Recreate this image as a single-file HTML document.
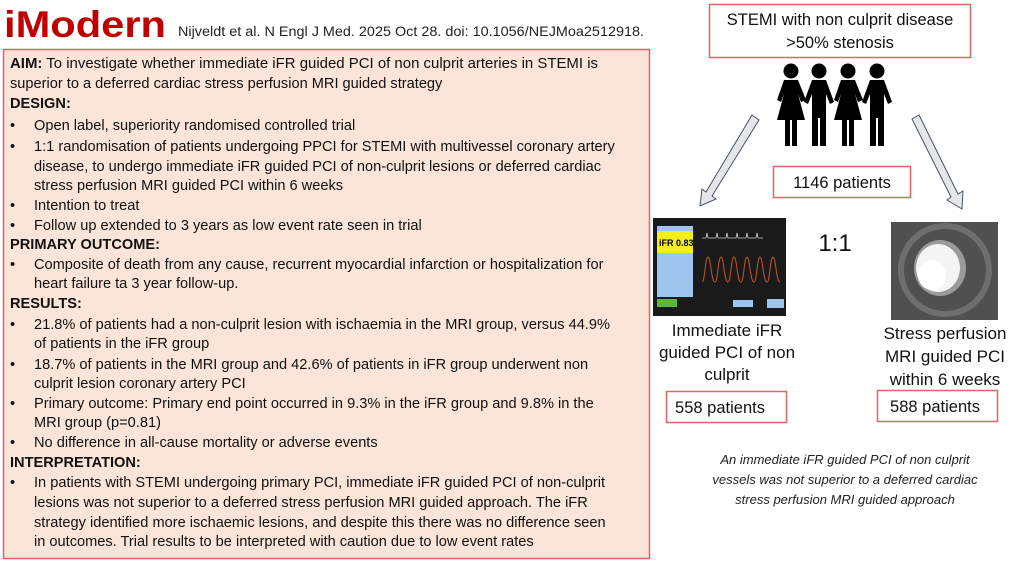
<!DOCTYPE html>
<html><head><meta charset="utf-8"><style>
html,body{margin:0;padding:0;background:#fff;}
svg{display:block;font-family:"Liberation Sans",sans-serif;}
</style></head><body>
<svg width="1024" height="576" viewBox="0 0 1024 576" xmlns="http://www.w3.org/2000/svg">
<text x="4" y="37" font-size="37" font-weight="bold" fill="#c00000" textLength="162" lengthAdjust="spacingAndGlyphs">iModern</text>
<text x="178" y="36" font-size="14" fill="#222" textLength="466" lengthAdjust="spacingAndGlyphs">Nijveldt et al. N Engl J Med. 2025 Oct 28. doi: 10.1056/NEJMoa2512918.</text>
<rect x="3.5" y="49.5" width="646" height="509" fill="#fbe4d8" stroke="#e06666" stroke-width="1.5"/>
<g font-size="14.6" fill="#111">
<text x="10" y="68" textLength="588" lengthAdjust="spacingAndGlyphs"><tspan font-weight="bold">AIM:</tspan> To investigate whether immediate iFR guided PCI of non culprit arteries in STEMI is</text>
<text x="10" y="88">superior to a deferred cardiac stress perfusion MRI guided strategy</text>
<text x="10" y="108" font-weight="bold">DESIGN:</text>
<text x="10" y="130">•</text><text x="34" y="130">Open label, superiority randomised controlled trial</text>
<text x="10" y="151">•</text><text x="34" y="151">1:1 randomisation of patients undergoing PPCI for STEMI with multivessel coronary artery</text>
<text x="34" y="171">disease, to undergo immediate iFR guided PCI of non-culprit lesions or deferred cardiac</text>
<text x="34" y="190">stress perfusion MRI guided PCI within 6 weeks</text>
<text x="10" y="210">•</text><text x="34" y="210">Intention to treat</text>
<text x="10" y="230">•</text><text x="34" y="230">Follow up extended to 3 years as low event rate seen in trial</text>
<text x="10" y="249" font-weight="bold">PRIMARY OUTCOME:</text>
<text x="10" y="269">•</text><text x="34" y="269">Composite of death from any cause, recurrent myocardial infarction or hospitalization for</text>
<text x="34" y="288">heart failure ta 3 year follow-up.</text>
<text x="10" y="308" font-weight="bold">RESULTS:</text>
<text x="10" y="329">•</text><text x="34" y="329">21.8% of patients had a non-culprit lesion with ischaemia in the MRI group, versus 44.9%</text>
<text x="34" y="348">of patients in the iFR group</text>
<text x="10" y="369">•</text><text x="34" y="369">18.7% of patients in the MRI group  and 42.6% of patients in iFR group underwent non</text>
<text x="34" y="388">culprit lesion coronary artery PCI</text>
<text x="10" y="408">•</text><text x="34" y="408">Primary outcome: Primary end point occurred in 9.3% in the iFR group and 9.8% in the</text>
<text x="34" y="427">MRI group (p=0.81)</text>
<text x="10" y="447">•</text><text x="34" y="447">No difference in all-cause mortality or adverse events</text>
<text x="10" y="467" font-weight="bold">INTERPRETATION:</text>
<text x="10" y="487">•</text><text x="34" y="487">In patients with STEMI undergoing primary PCI, immediate iFR guided PCI of non-culprit</text>
<text x="34" y="507">lesions was not superior to a deferred stress perfusion MRI guided approach. The iFR</text>
<text x="34" y="527">strategy identified more ischaemic lesions, and despite this there was no difference seen</text>
<text x="34" y="546">in outcomes. Trial results to be  interpreted with caution due to low event rates</text>
</g>
<rect x="709.5" y="4.5" width="261" height="53" fill="#fff" stroke="#e06666" stroke-width="1.5"/>
<text x="840" y="25" font-size="16.5" text-anchor="middle" fill="#111">STEMI with non culprit disease</text>
<text x="840" y="48" font-size="16.5" text-anchor="middle" fill="#111">&gt;50% stenosis</text>
<g fill="#000">
<circle cx="791" cy="71" r="7.5"/><circle cx="819" cy="71" r="7.5"/><circle cx="848" cy="71" r="7.5"/><circle cx="877" cy="71" r="7.5"/>
<path d="M784 80 h14 l8 20 l-5 2 l-3 -8 l7 26 h-8 v26 h-5 v-26 h-2 v26 h-5 v-26 h-8 l7 -26 l-3 8 l-4 -2 z"/>
<path d="M812 80 h14 l8 22 l-4 2 l-4 -10 v52 h-6 v-28 h-2 v28 h-6 v-52 l-4 10 l-4 -2 z"/>
<path d="M841 80 h14 l8 20 l-5 2 l-3 -8 l7 26 h-8 v26 h-5 v-26 h-2 v26 h-5 v-26 h-8 l7 -26 l-3 8 l-4 -2 z"/>
<path d="M870 80 h14 l8 22 l-4 2 l-4 -10 v52 h-6 v-28 h-2 v28 h-6 v-52 l-4 10 l-4 -2 z"/>
</g>
<g fill="#e6e6e6" stroke="#44546a" stroke-width="1">
<path d="M752 115 L759 120 L712 196 L716 199 L700 206 L702 189 L706 192 Z"/>
<path d="M912 119 L919 115 L958 194 L963 191 L962 209 L947 200 L951 197 Z"/>
</g>
<rect x="773.5" y="166.5" width="137" height="31" fill="#fff" stroke="#e06666" stroke-width="1.5"/>
<text x="842" y="188" font-size="16.5" text-anchor="middle" fill="#111">1146 patients</text>
<rect x="653" y="218" width="133" height="98" fill="#1a1a1a"/>
<rect x="657" y="226" width="36" height="71" fill="#9ec5ee"/>
<rect x="657" y="231" width="36" height="22" fill="#f4ef1a"/>
<text x="659" y="246" font-size="9" font-weight="bold" fill="#000">iFR 0.83</text>
<rect x="657" y="299" width="20" height="8" fill="#5cb83c"/>
<rect x="733" y="300" width="20" height="7" fill="#9ec5ee"/>
<rect x="767" y="299" width="17" height="9" fill="#9ec5ee"/>
<path d="M702 238 l4 0 l1 -5 l1 5 l8 0 l1 -5 l1 5 l8 0 l1 -5 l1 5 l8 0 l1 -5 l1 5 l8 0 l1 -5 l1 5 l8 0 l1 -5 l1 5 l5 0" fill="none" stroke="#ccc" stroke-width="0.8"/>
<path d="M702 282 c3 0 3 -25 6 -25 c3 0 3 25 7 25 c3 0 3 -25 6 -25 c3 0 3 25 7 25 c3 0 3 -25 6 -25 c3 0 3 25 7 25 c3 0 3 -25 6 -25 c3 0 3 25 7 25 c3 0 3 -25 6 -25 c3 0 3 25 7 25 c3 0 3 -25 6 -25 c3 0 3 25 7 25" fill="none" stroke="#c0562c" stroke-width="1"/>
<text x="835" y="251" font-size="24" text-anchor="middle" fill="#111">1:1</text>
<rect x="891" y="222" width="107" height="98" fill="#505050"/>
<circle cx="945" cy="270" r="44" fill="none" stroke="#6e6e6e" stroke-width="6"/>
<ellipse cx="940" cy="268" rx="26" ry="28" fill="#9a9a9a"/>
<ellipse cx="938" cy="268" rx="22" ry="24" fill="#f4f4f4"/>
<ellipse cx="932" cy="275" rx="14" ry="15" fill="#fff"/>
<text x="727" y="336" font-size="17" text-anchor="middle" fill="#111">Immediate iFR</text>
<text x="727" y="358" font-size="17" text-anchor="middle" fill="#111">guided PCI of non</text>
<text x="727" y="380" font-size="17" text-anchor="middle" fill="#111">culprit</text>
<text x="945" y="339" font-size="17" text-anchor="middle" fill="#111">Stress perfusion</text>
<text x="945" y="362" font-size="17" text-anchor="middle" fill="#111">MRI guided PCI</text>
<text x="945" y="385" font-size="17" text-anchor="middle" fill="#111">within 6 weeks</text>
<rect x="666.5" y="391.5" width="120" height="31" fill="#fff" stroke="#e06666" stroke-width="1.5"/>
<text x="720" y="413" font-size="16.5" text-anchor="middle" fill="#111">558 patients</text>
<rect x="877.5" y="390.5" width="120" height="31" fill="#fff" stroke="#e06666" stroke-width="1.5"/>
<text x="935" y="412" font-size="16.5" text-anchor="middle" fill="#111">588 patients</text>
<g font-size="13" font-style="italic" fill="#222" text-anchor="middle">
<text x="845" y="464">An immediate iFR guided PCI of non culprit</text>
<text x="845" y="484">vessels was not superior to a deferred cardiac</text>
<text x="845" y="504">stress perfusion MRI guided approach</text>
</g>
</svg>
</body></html>
